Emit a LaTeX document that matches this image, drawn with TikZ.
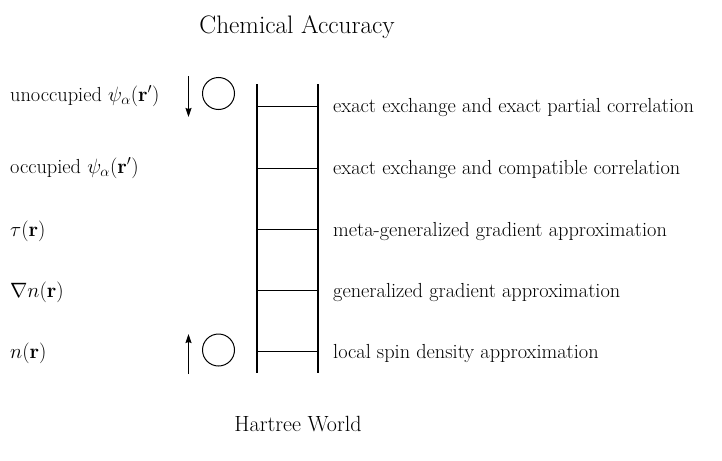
\documentclass[tikz,border=0pt]{standalone}
\usepackage{amsmath}
\usetikzlibrary{arrows.meta}
\begin{document}
\begin{tikzpicture}[x=1pt,y=-1pt,
  rail/.style={line width=1.1pt},
  rung/.style={line width=1pt},
  ring/.style={draw,line width=1pt,circle,minimum size=32pt,inner sep=0pt},
  spinarrow/.style={line width=1.3pt,-{Stealth[length=9pt,width=6pt,inset=1pt]}},
  leftlab/.style={anchor=base west,inner sep=0pt,font=\fontsize{20.35}{24}\selectfont},
  rightlab/.style={anchor=base west,inner sep=0pt,font=\fontsize{20.35}{24}\selectfont},
  title/.style={inner sep=0pt,font=\fontsize{25.3}{30}\selectfont},
  subtitle/.style={inner sep=0pt,font=\fontsize{22}{26}\selectfont}]
\useasboundingbox (0,0) rectangle (722,460);

% titles
\node[title,anchor=base] (top) at (297,34) {Chemical Accuracy};
\node[subtitle,anchor=base] (bottom) at (298,431) {Hartree World};

% ladder rails
\coordinate (lt) at (257,84);
\coordinate (lb) at (257,373);
\coordinate (rt) at (318,84);
\coordinate (rb) at (318,373);
\draw[rail] (lt) -- (lb);
\draw[rail] (rt) -- (rb);

% rungs
\foreach \y/\n in {106.5/5,168/4,229/3,290/2,351.5/1}{
  \coordinate (rl\n) at (257,\y);
  \coordinate (rr\n) at (318,\y);
  \draw[rung] (rl\n) -- (rr\n);
}

% right labels
\node[rightlab] (d5) at (333,112) {exact exchange and exact partial correlation};
\node[rightlab] (d4) at (333,174) {exact exchange and compatible correlation};
\node[rightlab] (d3) at (333,236) {meta-generalized gradient approximation};
\node[rightlab] (d2) at (333,297) {generalized gradient approximation};
\node[rightlab] (d1) at (333,358) {local spin density approximation};

% left labels
\node[leftlab] (i5) at (10,101) {unoccupied $\psi_\alpha(\mathbf{r}')$};
\node[leftlab] (i4) at (10,173) {occupied $\psi_\alpha(\mathbf{r}')$};
\node[leftlab] (i3) at (10,236) {$\tau(\mathbf{r})$};
\node[leftlab] (i2) at (10,297) {$\nabla n(\mathbf{r})$};
\node[leftlab] (i1) at (10,358) {$n(\mathbf{r})$};

% circles
\node[ring] (c5) at (218.5,93.5) {};
\node[ring] (c1) at (218.5,350) {};

% spin arrows
\coordinate (a5s) at (188.5,76);
\coordinate (a5e) at (188.5,117);
\coordinate (a1s) at (188.5,374);
\coordinate (a1e) at (188.5,334);
\draw[spinarrow] (a5s) -- (a5e);
\draw[spinarrow] (a1s) -- (a1e);
\end{tikzpicture}
\end{document}
